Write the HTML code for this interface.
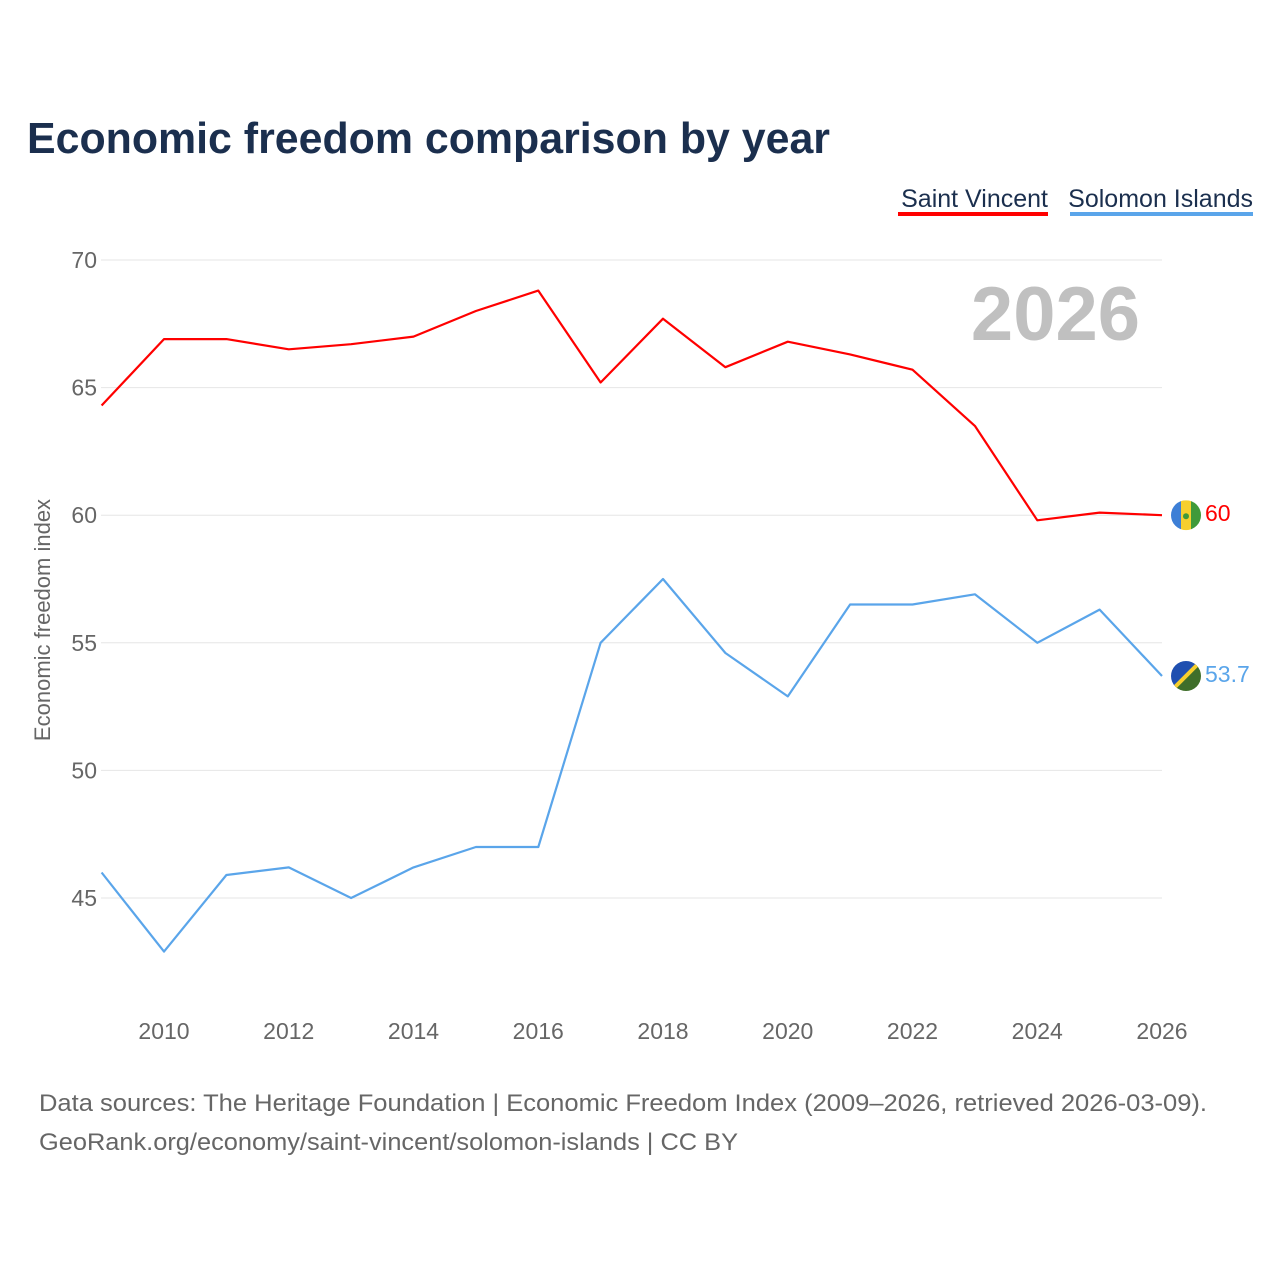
<!DOCTYPE html>
<html><head><meta charset="utf-8"><style>
body{margin:0;background:#fff;font-family:"Liberation Sans",sans-serif;}
#wrap{position:relative;width:1280px;height:1280px;overflow:hidden;}
</style></head><body>
<div id="wrap">
<svg id="chart" width="1280" height="1280"></svg>
</div>
<script>
const years=[2009,2010,2011,2012,2013,2014,2015,2016,2017,2018,2019,2020,2021,2022,2023,2024,2025,2026];
const saintVincent=[64.3,66.9,66.9,66.5,66.7,67.0,68.0,68.8,65.2,67.7,65.8,66.8,66.3,65.7,63.5,59.8,60.1,60.0];
const solomon=[46.0,42.9,45.9,46.2,45.0,46.2,47.0,47.0,55.0,57.5,54.6,52.9,56.5,56.5,56.9,55.0,56.3,53.7];
const yTicks=[45,50,55,60,65,70];
const xTicks=[2010,2012,2014,2016,2018,2020,2022,2024,2026];

const NS="http://www.w3.org/2000/svg";
const svg=document.getElementById('chart');
const xS=y=>164+(y-2010)*(1162-164)/16;
const yS=v=>260+(70-v)*(898-260)/25;
function mk(t,a,p){const e=document.createElementNS(NS,t);for(const k in a)e.setAttribute(k,a[k]);(p||svg).appendChild(e);return e;}

let t=mk('text',{x:27,y:153,'font-size':44,'font-weight':'bold',fill:'#1b2f4e',textLength:803,lengthAdjust:'spacingAndGlyphs'});t.textContent='Economic freedom comparison by year';



t=mk('text',{x:1048,y:207,'font-size':25,fill:'#1b2f4e','text-anchor':'end'});t.textContent='Saint Vincent';


let r=mk('rect',{x:898,y:212,width:150,height:4,fill:'#ff0000'});


t=mk('text',{x:1253,y:207,'font-size':25,fill:'#1b2f4e','text-anchor':'end'});t.textContent='Solomon Islands';


r=mk('rect',{x:1070,y:212,width:183,height:4,fill:'#5aa5ea'});



yTicks.forEach(v=>{
 const l=mk('line',{x1:101,x2:1162,y1:yS(v),y2:yS(v),stroke:'#e6e6e6','stroke-width':1});
 
 
 const tx=mk('text',{x:97,y:yS(v)+8,'font-size':23,fill:'#666','text-anchor':'end'});tx.textContent=v;
 
 
});
xTicks.forEach(v=>{
 const tx=mk('text',{x:xS(v),y:1039,'font-size':23,fill:'#666','text-anchor':'middle'});tx.textContent=v;
 
 
});
t=mk('text',{x:0,y:0,'font-size':22,fill:'#666','text-anchor':'middle',transform:'translate(50,620) rotate(-90)'});t.textContent='Economic freedom index';



t=mk('text',{x:1140,y:340,'font-size':76,'font-weight':'bold',fill:'#c0c0c0','text-anchor':'end'});t.textContent='2026';



function series(vals,color,name){
 const d=vals.map((v,i)=>(i?'L':'M')+xS(years[i]).toFixed(1)+','+yS(v).toFixed(1)).join('');
 const p=mk('path',{d:d,fill:'none',stroke:color,'stroke-width':2.2,'stroke-linejoin':'round'});
 
 
}
series(saintVincent,'#ff0000','saint-vincent');
series(solomon,'#5aa5ea','solomon-islands');

const lastSV=saintVincent[saintVincent.length-1], lastSI=solomon[solomon.length-1];
const cx=1186;
let g=mk('g',{});


mk('clipPath',{id:'c1'},g);mk('circle',{cx:cx,cy:yS(lastSV),r:15},g.lastChild);
mk('rect',{x:cx-15,y:yS(lastSV)-15,width:10,height:30,fill:'#3d7fd6','clip-path':'url(#c1)'},g);
mk('rect',{x:cx-5,y:yS(lastSV)-15,width:10,height:30,fill:'#f6cf2e','clip-path':'url(#c1)'},g);
mk('rect',{x:cx+5,y:yS(lastSV)-15,width:10,height:30,fill:'#3f9a3a','clip-path':'url(#c1)'},g);
mk('circle',{cx:cx,cy:yS(lastSV)+1,r:3,fill:'#3f9a3a'},g);
t=mk('text',{x:1205,y:yS(lastSV)+6,'font-size':23,fill:'#ff0000'});t.textContent=lastSV;



g=mk('g',{});


mk('clipPath',{id:'c2'},g);mk('circle',{cx:cx,cy:yS(lastSI),r:15},g.lastChild);
const y0=yS(lastSI);
mk('polygon',{points:`${cx-15},${y0-15} ${cx+15},${y0-15} ${cx-15},${y0+15}`,fill:'#1f4fb0','clip-path':'url(#c2)'},g);
mk('polygon',{points:`${cx+15},${y0-15} ${cx+15},${y0+15} ${cx-15},${y0+15}`,fill:'#3f6e2a','clip-path':'url(#c2)'},g);
mk('line',{x1:cx+15,y1:y0-15,x2:cx-15,y2:y0+15,stroke:'#f6cf2e','stroke-width':4,'clip-path':'url(#c2)'},g);
t=mk('text',{x:1205,y:y0+6,'font-size':23,fill:'#5aa5ea'});t.textContent=lastSI;



t=mk('text',{x:39,y:1111,'font-size':24,fill:'#666',textLength:1168,lengthAdjust:'spacingAndGlyphs'});t.textContent='Data sources: The Heritage Foundation | Economic Freedom Index (2009–2026, retrieved 2026-03-09).';


t=mk('text',{x:39,y:1150,'font-size':24,fill:'#666',textLength:699,lengthAdjust:'spacingAndGlyphs'});t.textContent='GeoRank.org/economy/saint-vincent/solomon-islands | CC BY';


</script>
</body></html>
